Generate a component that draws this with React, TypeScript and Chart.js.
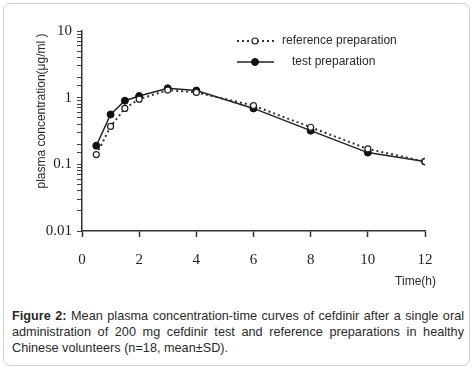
import React, { useEffect, useRef } from "react";
import { Chart, registerables } from "chart.js";

Chart.register(...registerables);

const times = [0.5, 1, 1.5, 2, 3, 4, 6, 8, 10, 12];
const referenceValues = [0.14, 0.37, 0.69, 0.95, 1.3, 1.2, 0.76, 0.36, 0.17, 0.11];
const testValues = [0.19, 0.56, 0.9, 1.06, 1.38, 1.28, 0.69, 0.32, 0.15, 0.11];
const xTicks = [0, 2, 4, 6, 8, 10, 12];
const yTickLabels = ["0.01", "0.1", "1", "10"];
const seriesLabels = ["reference preparation", "test preparation"];
const yTitle = "plasma concentration(μg/ml )";
const xTitle = "Time(h)";

const INK = "#1e1e1e";
const SANS = "'Liberation Sans', Arial, sans-serif";
const SERIF = "'Liberation Serif', 'Times New Roman', serif";

const overlayPlugin = {
  id: "overlay",
  afterDraw(chart: any) {
    const ctx = chart.ctx;
    const ds = chart.data.datasets;
    ctx.save();
    ctx.fillStyle = "#2a2a2a";
    ctx.font = `12px ${SANS}`;
    ctx.textAlign = "center";
    ctx.textBaseline = "middle";
    ctx.save();
    ctx.translate(42, 111);
    ctx.rotate(-Math.PI / 2);
    ctx.fillText(yTitle, 0, 0);
    ctx.restore();
    ctx.textAlign = "right";
    ctx.fillText(xTitle, 436, 282);
    const rows = [
      { y: 41, textX: 282, ds: ds[0] },
      { y: 62, textX: 292, ds: ds[1] },
    ];
    rows.forEach((r) => {
      ctx.save();
      ctx.strokeStyle = r.ds.borderColor;
      ctx.lineWidth = r.ds.borderWidth;
      ctx.setLineDash(r.ds.borderDash || []);
      ctx.beginPath();
      ctx.moveTo(237, r.y);
      ctx.lineTo(274, r.y);
      ctx.stroke();
      ctx.setLineDash([]);
      ctx.beginPath();
      ctx.arc(255, r.y, r.ds.pointRadius, 0, Math.PI * 2);
      ctx.fillStyle = r.ds.pointBackgroundColor;
      ctx.fill();
      ctx.lineWidth = r.ds.pointBorderWidth;
      ctx.strokeStyle = r.ds.pointBorderColor;
      ctx.stroke();
      ctx.restore();
      ctx.fillStyle = "#2a2a2a";
      ctx.font = `12px ${SANS}`;
      ctx.textAlign = "left";
      ctx.textBaseline = "middle";
      ctx.fillText(r.ds.label, r.textX, r.y);
    });
    ctx.restore();
  },
};

function PkChart() {
  const ref = useRef<HTMLCanvasElement>(null);
  useEffect(() => {
    if (!ref.current) return;
    const chart = new Chart(ref.current, {
      type: "line",
      data: {
        datasets: [
          {
            label: seriesLabels[0],
            data: times.map((t, i) => ({ x: t, y: referenceValues[i] })),
            borderColor: "#333",
            borderWidth: 2,
            borderDash: [2, 3],
            pointRadius: 3,
            pointBackgroundColor: "#fff",
            pointBorderColor: "#222",
            pointBorderWidth: 1.2,
            tension: 0,
          },
          {
            label: seriesLabels[1],
            data: times.map((t, i) => ({ x: t, y: testValues[i] })),
            borderColor: "#222",
            borderWidth: 1.5,
            pointRadius: 3.5,
            pointBackgroundColor: "#111",
            pointBorderColor: "#111",
            pointBorderWidth: 1,
            tension: 0,
          },
        ],
      },
      options: {
        responsive: false,
        animation: false,
        devicePixelRatio: 1,
        layout: { padding: { left: 0, right: 49, top: 31, bottom: 0 } },
        plugins: { legend: { display: false }, tooltip: { enabled: false } },
        scales: {
          x: {
            type: "linear",
            min: 0,
            max: 12,
            afterFit: (s: any) => {
              s.height = 69;
            },
            afterBuildTicks: (s: any) => {
              s.ticks = xTicks.map((v) => ({ value: v }));
            },
            ticks: {
              font: { family: SERIF, size: 15 },
              color: INK,
              padding: 14,
              maxRotation: 0,
              autoSkip: false,
            },
            grid: {
              drawOnChartArea: false,
              drawTicks: true,
              tickLength: 6,
              tickColor: "#333",
              tickWidth: 1.5,
            },
            border: { color: "#333", width: 1.5 },
          },
          y: {
            type: "logarithmic",
            min: 0.01,
            max: 10,
            afterFit: (s: any) => {
              s.width = 82;
            },
            ticks: {
              font: { family: SERIF, size: 15 },
              color: INK,
              padding: 5,
              autoSkip: false,
              callback: (v: any) => {
                const label = yTickLabels.find((l) => Math.abs(parseFloat(l) - v) < 1e-9);
                return label ?? "";
              },
            },
            grid: {
              drawOnChartArea: false,
              drawTicks: true,
              tickLength: 5,
              tickColor: "#444",
              tickWidth: 1,
            },
            border: { color: "#333", width: 1.5 },
          },
        },
      },
      plugins: [overlayPlugin],
    } as any);
    return () => chart.destroy();
  }, []);
  return <canvas ref={ref} width={474} height={300} style={{ position: "absolute", left: 0, top: 0 }} />;
}

export default function App() {
  return (
    <div style={{ position: "absolute", left: 0, top: 0, width: 474, height: 369, background: "#fff", overflow: "hidden" }}>
      <div
        style={{
          position: "absolute",
          left: 3,
          top: 3,
          width: 467,
          height: 363,
          boxSizing: "border-box",
          border: "1.5px solid #cfcfcf",
          borderRadius: 7,
        }}
      />
      <PkChart />
      <div
        style={{
          position: "absolute",
          left: 12,
          top: 308,
          width: 452,
          fontFamily: SANS,
          fontSize: 12.7,
          lineHeight: "16px",
          color: "#2a2a2a",
          textAlign: "justify",
        }}
      >
        <b>Figure 2:</b> Mean plasma concentration-time curves of cefdinir after a single oral
        administration of 200 mg cefdinir test and reference preparations in healthy Chinese
        volunteers (n=18, mean±SD).
      </div>
    </div>
  );
}
